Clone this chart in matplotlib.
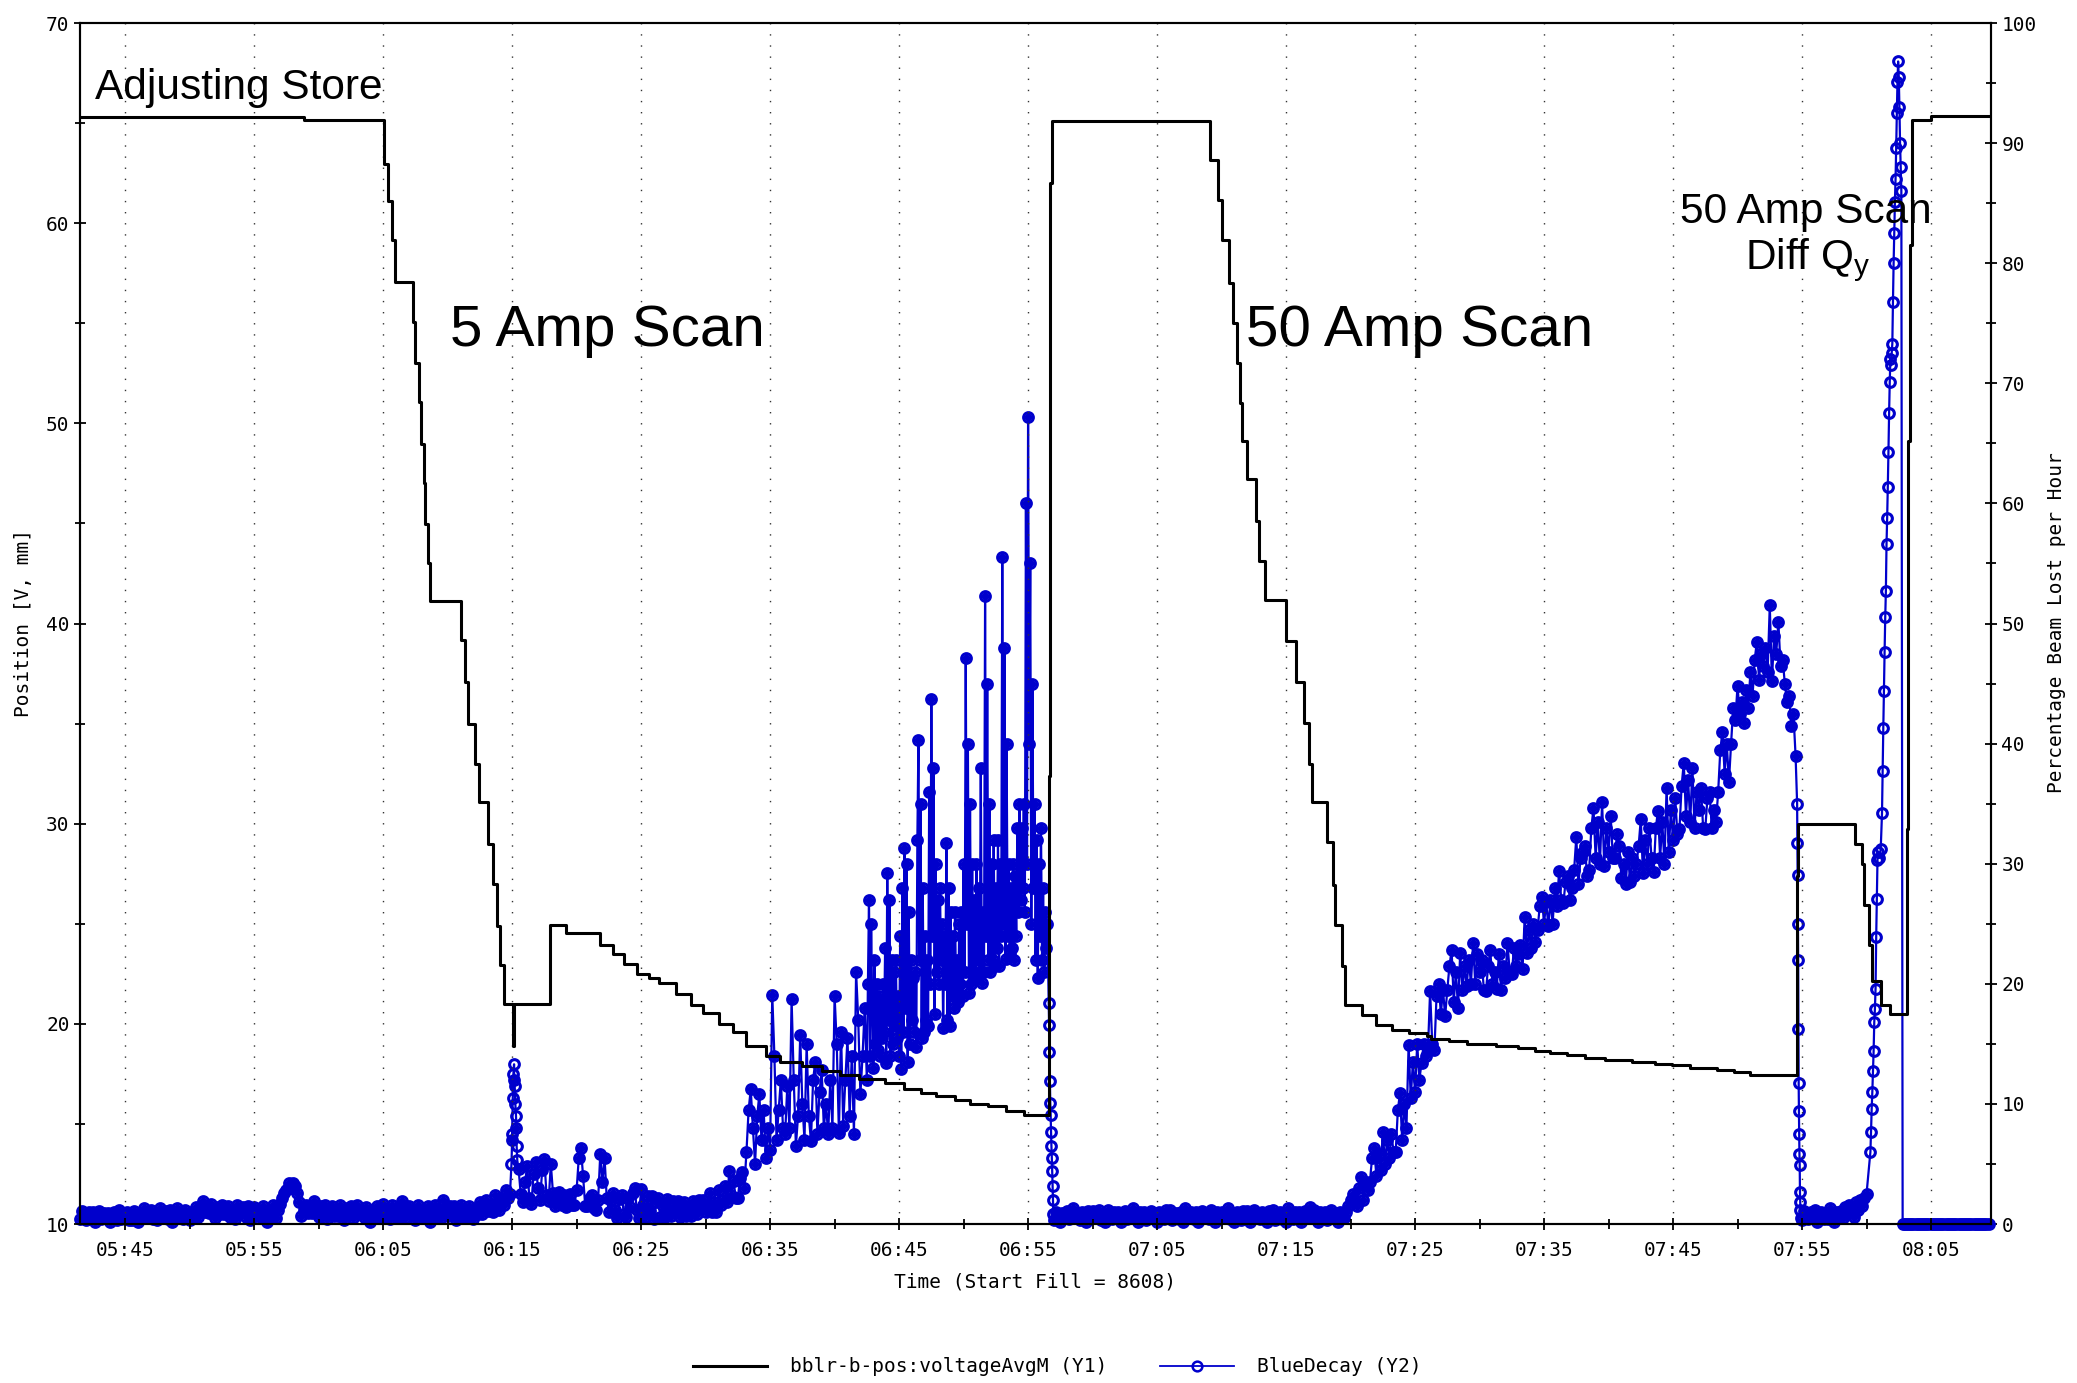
import numpy as np
import matplotlib
matplotlib.use("Agg")
import matplotlib.pyplot as plt
from matplotlib.ticker import MultipleLocator, FuncFormatter
from matplotlib.lines import Line2D

W, H = 2077, 1383
MONO = "DejaVu Sans Mono"
SANS = "Liberation Sans"
BLUE = "#0000cc"

plt.rcParams["font.family"] = MONO
plt.rcParams["mathtext.fontset"] = "custom"
plt.rcParams["mathtext.rm"] = SANS
plt.rcParams["mathtext.it"] = SANS + ":italic"
plt.rcParams["path.simplify"] = False

# all times are minutes after midnight

# bblr-b-pos:voltageAvgM, step values (time of change, new value)
black_t = [341.5, 358.9, 365.05, 365.35, 365.65, 365.95, 367.33, 367.45, 367.78, 367.96,
           368.14, 368.27, 368.49, 368.62, 371.07, 371.33, 371.59, 372.11, 372.42, 373.14,
           373.53, 373.79, 374.04, 374.35, 375.05, 375.15, 377.92, 379.2, 381.8, 382.8,
           383.7, 384.7, 385.6, 386.4, 387.7, 388.9, 389.8, 391.0, 392.1, 393.1,
           394.7, 395.8, 397.5, 399.0, 400.4, 401.9, 403.9, 405.4, 406.7, 407.9,
           409.3, 410.5, 411.9, 413.3, 414.7, 416.6, 416.72, 416.85, 429.08, 429.7,
           430.06, 430.6, 430.9, 431.2, 431.4, 431.6, 431.96, 432.66, 432.9, 433.4,
           435.0, 435.8, 436.4, 436.8, 437.0, 438.2, 438.6, 438.8, 439.3, 439.6,
           440.9, 442.0, 443.2, 444.5, 445.9, 446.2, 447.6, 449.0, 451.3, 453.0,
           454.3, 455.5, 456.8, 458.2, 459.7, 461.8, 463.6, 464.9, 466.3, 468.4,
           469.7, 471.0, 472.0, 474.62, 474.7, 479.13, 479.65, 479.83, 480.17, 480.43,
           481.15, 481.85, 483.1, 483.2, 483.35, 483.53, 485.0, 489.65]
black_v = [65.3, 65.15, 62.98, 61.13, 59.18, 57.07, 55.05, 53.0, 51.06, 48.96,
           47.0, 44.97, 43.0, 41.14, 39.2, 37.08, 34.97, 33.0, 31.08, 28.96,
           27.0, 24.9, 22.95, 20.99, 18.9, 20.99, 24.96, 24.55, 23.92, 23.5,
           22.97, 22.51, 22.3, 22.03, 21.49, 20.94, 20.54, 20.0, 19.59, 18.91,
           18.37, 18.1, 17.91, 17.64, 17.42, 17.24, 17.02, 16.75, 16.56, 16.37,
           16.2, 16.01, 15.88, 15.66, 15.47, 32.4, 62.0, 65.1, 63.15, 61.15,
           59.15, 57.0, 55.0, 53.0, 51.0, 49.1, 47.2, 45.1, 43.1, 41.17,
           39.14, 37.1, 35.05, 33.0, 31.08, 29.06, 26.93, 24.93, 22.89, 20.94,
           20.46, 19.94, 19.7, 19.54, 19.39, 19.24, 19.12, 18.98, 18.87, 18.77,
           18.62, 18.52, 18.42, 18.31, 18.21, 18.1, 18.0, 17.94, 17.8, 17.67,
           17.57, 17.46, 17.42, 27.4, 29.98, 28.96, 28.0, 25.92, 23.95, 22.14,
           20.92, 20.5, 29.73, 49.1, 58.9, 65.16, 65.35, 65.35]

# BlueDecay, regularly sampled segments (one row = one minute)
store_t0 = 341.5          # 10 s samples
store_p = [0.4, 1.1, 0.6, 0.3, 1.0, 0.5,
           1.0, 0.2, 0.8, 1.1, 0.4, 0.9,
           0.5, 0.9, 0.2, 0.7, 1.0, 0.3,
           1.2, 0.4, 0.9, 0.6, 1.0, 0.3,
           0.3, 1.1, 0.5, 0.2, 0.9, 0.6,
           1.3, 0.5, 1.0, 1.2, 0.4, 0.8,
           0.3, 1.3, 0.7, 0.6, 1.1, 0.4,
           1.2, 0.2, 0.9, 1.3, 0.5, 0.8,
           0.4, 1.2, 0.6, 0.3, 1.0, 0.5,
           1.4, 0.6, 1.2, 1.9, 1.0, 1.5,
           0.9, 1.7, 1.1, 0.5, 1.4, 0.8,
           1.6, 0.8, 1.2, 1.5, 0.6, 1.0,
           0.4, 1.6, 0.9, 1.1, 1.4, 0.6,
           1.5, 0.3, 1.0, 1.4, 0.7, 1.2,
           0.6, 1.5, 0.9, 0.2, 1.2, 0.7,
           1.6, 0.5, 1.2, 1.7, 2.2, 2.6,
           2.8, 3.4, 3.0, 3.4, 3.2, 2.6,
           1.8, 0.7, 1.2, 1.6, 0.9, 1.3,
           0.9, 1.9, 1.2, 0.6, 1.5, 1.0,
           1.6, 0.4, 1.1, 1.5, 0.7, 1.2,
           0.7, 1.6, 1.0, 0.3, 1.3, 0.8,
           1.5, 0.5, 1.1, 1.6, 0.8, 1.2,
           0.6, 1.4, 0.9, 0.2, 1.2, 0.7,
           1.5, 0.5, 1.0, 1.7, 0.6, 1.2,
           0.4, 1.6, 0.9, 0.7, 1.3, 0.5,
           1.9, 0.5, 1.3, 1.5, 0.8, 1.1,
           0.3, 1.6, 0.9, 0.6, 1.2, 0.5,
           1.5, 0.2, 1.0, 1.6, 0.7, 1.2,
           0.5, 2.0, 1.2, 0.7, 1.5, 0.9,
           1.5, 0.3, 1.0, 1.6, 0.6, 1.2,
           0.6, 1.5, 0.9, 0.4, 1.3, 0.8,
           1.8, 0.8, 1.4, 2.0, 1.1, 1.6,
           1.0, 2.4, 1.5, 1.2, 2.2, 1.6,
           2.8, 2.2]

scan5a_t0 = 374.8333      # 10 s samples
scan5a_p = [2.5, 7.0, 12.0, 8.0, 4.6, 2.5,
            1.8, 3.5, 4.8, 2.2, 1.7, 4.2,
            5.2, 3.0, 2.0, 4.5, 5.4, 2.4,
            1.9, 5.0, 2.6, 1.5, 2.2, 2.7,
            1.6, 2.4, 1.4, 2.0, 2.5, 1.6,
            1.6, 2.8, 5.5, 6.3, 4.0, 1.5,
            1.5, 2.2, 2.4, 1.3, 1.2, 2.0,
            5.8, 3.5, 5.5, 2.2, 1.0, 2.0,
            2.6, 1.2, 0.5, 2.1, 2.4, 0.8,
            0.6, 2.2, 1.4, 2.6, 3.0, 1.2,
            0.5, 2.9, 1.6, 0.6, 2.3, 1.1,
            2.3, 0.4, 1.8, 2.2, 0.6, 1.5,
            0.6, 2.1, 1.2, 0.7, 1.9, 1.0,
            1.9, 0.6, 1.4, 1.8, 0.7, 1.3,
            0.7, 1.9, 1.1, 0.8, 2.0, 1.3,
            2.0, 1.0, 1.6, 2.6, 1.0, 1.8,
            1.0, 2.8, 1.6, 2.0, 3.2, 1.8,
            4.4, 2.4, 3.6, 2.2]

scan5b_t0 = 392.5         # 10 s samples
scan5b_p = [2.2, 3.8, 4.3, 3.0, 6.0, 9.5,
            11.2, 8.0, 5.0, 9.0, 10.8, 7.0,
            9.5, 5.5, 8.0, 6.2, 19.1, 14.0,
            7.0, 9.5, 12.0, 8.0, 7.5, 11.5,
            8.0, 18.7, 12.0, 6.5, 9.0, 15.7,
            10.0, 7.0, 15.0, 9.0, 6.9, 12.0,
            13.5, 7.5, 11.0, 12.8, 8.0, 10.0,
            7.5, 12.0, 8.0, 19.0, 15.0, 7.6,
            16.0, 8.2, 12.0, 15.5, 9.0, 14.0,
            7.5, 21.0, 17.0, 10.8, 14.0, 18.0]

scan5c_t0 = 402.5         # 5 s samples
scan5c_p = [12.0, 20.0, 27.0, 14.0, 25.0, 18.0, 13.0, 22.0, 15.0, 20.0, 14.5, 19.0,
            14.0, 18.5, 15.5, 20.0, 16.0, 23.0, 13.4, 29.2, 17.0, 27.0, 14.0, 22.0,
            15.0, 21.0, 16.5, 22.0, 15.5, 19.0, 14.0, 24.0, 12.9, 28.0, 16.0, 31.3,
            18.0, 30.0, 13.5, 26.0, 15.0, 22.0, 17.0, 20.5, 16.0, 21.0, 14.7, 32.0,
            40.3, 22.0, 35.0, 15.5, 28.0, 16.0, 24.0, 17.0, 22.0, 16.5, 36.0, 20.0,
            43.7, 24.0, 38.0, 17.5, 30.0, 21.0, 27.0, 20.0, 28.0, 22.0, 25.0, 16.3,
            24.0, 20.0, 31.7, 17.0, 28.0, 16.5, 26.0, 19.0, 24.0, 18.0, 26.0, 19.5,
            22.0, 18.5, 25.0, 20.0, 26.0, 19.0, 30.0, 21.0, 47.1, 25.0, 40.0, 19.2,
            35.0, 20.0, 30.0, 21.0, 27.0, 20.5, 30.0, 22.0, 28.0, 21.0, 38.0, 20.1,
            26.0, 21.0, 52.3, 24.0, 45.0, 22.0, 35.0, 21.0, 30.0, 22.0, 32.0, 21.5,
            28.0, 23.0, 32.0, 21.5, 30.0, 24.0, 55.5, 25.0, 48.0, 22.1, 40.0, 24.0,
            30.0, 22.5, 28.0, 23.0, 30.0, 22.0, 29.0, 24.0, 33.0, 26.0, 35.0, 27.0,
            33.0, 28.0, 35.0, 26.0, 60.0, 30.0, 67.2, 40.0, 55.0, 25.0, 45.0, 28.0,
            35.0, 22.0, 32.0, 20.5, 30.0, 24.0, 33.0, 22.0, 28.0, 21.0, 26.0, 23.0,
            25.0]

quiet_t0 = 417.0          # 10 s samples
quiet_p = [0.3, 1.0, 0.6, 0.2, 0.9, 0.5,
           1.1, 0.4, 0.8, 1.3, 0.5, 0.9,
           0.3, 1.0, 0.6, 0.2, 1.1, 0.5,
           1.1, 0.5, 0.9, 1.2, 0.3, 0.8,
           0.2, 1.2, 0.7, 0.4, 1.0, 0.5,
           1.0, 0.2, 0.8, 1.1, 0.4, 0.9,
           0.5, 1.3, 0.8, 0.2, 1.0, 0.6,
           1.0, 0.3, 0.7, 1.1, 0.5, 0.9,
           0.2, 1.0, 0.6, 0.4, 1.2, 0.5,
           1.2, 0.3, 0.8, 0.9, 0.4, 1.0,
           0.2, 1.3, 0.7, 0.5, 1.0, 0.4,
           1.0, 0.2, 0.8, 1.1, 0.5, 0.9,
           0.4, 1.2, 0.7, 0.2, 1.0, 0.6,
           1.0, 0.5, 0.9, 1.3, 0.4, 0.8,
           0.2, 1.0, 0.6, 0.3, 1.1, 0.5,
           1.1, 0.2, 0.8, 1.2, 0.5, 0.9,
           0.4, 1.0, 0.6, 0.2, 1.1, 0.5,
           1.2, 0.3, 0.8, 1.0, 0.4, 0.9,
           0.2, 1.3, 0.7, 0.4, 1.0, 0.5,
           1.0, 0.2, 0.8, 1.1, 0.5, 1.4,
           0.5, 1.2, 0.7, 0.2, 1.0, 0.6,
           1.0, 0.3, 0.8, 1.2, 0.5, 0.9,
           0.2, 1.0, 0.5]

scan50_t0 = 439.5         # 10 s samples
scan50_p = [0.5, 1.0, 1.5, 2.0, 2.5, 1.8,
            1.5, 3.0, 3.9, 2.0, 3.5, 2.8,
            3.5, 5.5, 6.3, 4.0, 5.8, 4.5,
            7.7, 5.0, 7.0, 5.5, 7.5, 6.0,
            6.0, 9.5, 10.9, 7.0, 10.0, 8.0,
            14.9, 10.5, 13.5, 11.0, 15.0, 12.0,
            13.4, 15.0, 14.0, 14.5, 19.4, 15.0,
            14.5, 19.0, 20.0, 17.5, 19.5, 17.3,
            19.5, 21.5, 22.8, 18.5, 21.0, 18.0,
            22.6, 19.5, 21.5, 19.8, 22.0, 20.0,
            23.4, 20.0, 22.5, 21.0, 22.0, 19.5,
            19.4, 21.5, 22.8, 20.0, 21.0, 19.6,
            22.5, 19.5, 21.5, 20.5, 23.4, 21.0,
            20.8, 23.0, 21.5, 22.5, 23.2, 21.2,
            25.6, 22.6, 24.5, 23.0, 25.0, 23.5,
            24.5, 26.5, 27.2, 25.0, 26.8, 24.8,
            27.0, 25.0, 28.0, 26.5, 29.4, 27.0,
            26.7, 28.5, 29.0, 27.0, 28.0, 29.5,
            32.2, 28.3, 30.5, 31.0, 31.5, 29.0,
            29.5, 33.0, 34.6, 30.5, 33.5, 30.0,
            35.1, 29.8, 33.0, 31.0, 34.0, 30.5,
            30.5, 32.5, 31.5, 28.8, 30.0, 28.3,
            31.0, 28.5, 30.5, 29.0, 30.0, 31.5,
            33.7, 29.2, 32.0, 30.0, 33.0, 30.5,
            29.3, 33.0, 34.4, 30.5, 33.5, 30.0,
            36.3, 31.0, 34.5, 32.0, 35.5, 32.5,
            32.9, 36.5, 38.4, 34.0, 37.0, 33.5,
            38.0, 33.0, 36.0, 34.5, 36.3, 33.0,
            32.9, 35.5, 36.0, 33.0, 34.5, 33.5,
            36.0, 39.5, 41.0, 37.5, 40.0, 36.8,
            40.0, 43.0, 42.0, 44.8, 42.5, 43.5,
            41.7, 44.5, 43.0, 46.0, 44.0, 47.0,
            48.5, 45.3, 47.5, 46.5, 48.0, 46.0,
            51.5, 45.2, 49.0, 47.5, 50.1, 46.5,
            47.0, 45.0, 43.5, 44.0, 41.5, 42.5,
            39.0]

diffq_t0 = 475.0          # 10 s samples
diffq_p = [0.3, 1.1, 0.6, 0.4, 1.0, 0.5,
           1.2, 0.2, 0.8, 1.0, 0.4, 0.9,
           0.4, 1.3, 0.7, 0.2, 1.0, 0.6,
           1.1, 0.5, 1.4, 0.8, 1.6, 1.0,
           0.6, 1.8, 1.2, 2.0, 1.5, 2.2,
           2.5]

lost_t0 = 482.8           # 10 s samples, beam gone
lost_p = [0.0] * 41

# BlueDecay, fast transitions (explicit times)
spike_t = [374.95, 375.0, 375.05, 375.1, 375.15, 375.2, 375.25, 375.3, 375.35, 375.4]
spike_p = [5.0, 7.5, 10.5, 12.5, 13.3, 11.5, 10.0, 9.0, 6.5, 5.3]

drop1_t = [416.6, 416.63, 416.66, 416.69, 416.72, 416.75, 416.78, 416.81, 416.84,
           416.87, 416.9, 416.93, 416.96]
drop1_p = [18.4, 16.6, 14.3, 11.9, 10.1, 9.1, 7.7, 6.5, 5.5, 4.4, 3.2, 2.0, 0.8]

drop2_t = [474.62, 474.64, 474.66, 474.68, 474.7, 474.72, 474.74, 474.76, 474.78,
           474.8, 474.82, 474.84, 474.86, 474.88, 474.9]
drop2_p = [35.0, 31.7, 29.1, 25.0, 22.0, 16.2, 11.7, 9.4, 7.5, 5.8, 4.9, 2.7, 1.8, 1.2, 0.5]

rise_t = [480.3, 480.35, 480.4, 480.45, 480.5, 480.55, 480.6, 480.65, 480.7, 480.75,
          480.8, 480.85, 480.9, 481.0, 481.1, 481.2, 481.25, 481.3, 481.35, 481.4,
          481.45, 481.5, 481.55, 481.6, 481.65, 481.7, 481.75, 481.8, 481.85, 481.9,
          481.95, 482.0, 482.05, 482.1, 482.15, 482.2, 482.25, 482.3, 482.35, 482.4,
          482.45, 482.5, 482.55, 482.6, 482.65, 482.7]
rise_p = [6.0, 7.7, 9.6, 11.0, 12.7, 14.4, 16.8, 17.9, 19.6, 23.9,
          27.1, 30.3, 31.0, 30.5, 31.2, 34.2, 37.7, 41.3, 44.4, 47.6,
          50.5, 52.7, 56.6, 58.8, 61.4, 64.3, 67.5, 70.1, 72.0, 71.5,
          72.5, 73.3, 76.8, 80.0, 82.5, 85.1, 87.0, 89.6, 92.5, 95.1,
          96.8, 95.5, 93.0, 90.0, 88.0, 86.0]


def regular(t0, step, vals):
    return t0 + np.arange(len(vals)) * step, np.asarray(vals, dtype=float)


dense = [
    regular(store_t0, 1 / 6, store_p),
    regular(scan5a_t0, 1 / 6, scan5a_p),
    regular(scan5b_t0, 1 / 6, scan5b_p),
    regular(scan5c_t0, 1 / 12, scan5c_p),
    regular(quiet_t0, 1 / 6, quiet_p),
    regular(scan50_t0, 1 / 6, scan50_p),
    regular(diffq_t0, 1 / 6, diffq_p),
    regular(lost_t0, 1 / 6, lost_p),
]
fast = [
    (np.array(spike_t), np.array(spike_p)),
    (np.array(drop1_t), np.array(drop1_p)),
    (np.array(drop2_t), np.array(drop2_p)),
    (np.array(rise_t), np.array(rise_p)),
]
dense_t = np.concatenate([p[0] for p in dense])
dense_p = np.concatenate([p[1] for p in dense])
blue_t = np.concatenate([dense_t] + [p[0] for p in fast])
blue_p = np.concatenate([dense_p] + [p[1] for p in fast])
order = np.argsort(blue_t, kind="stable")
blue_t, blue_p = blue_t[order], blue_p[order]


def hhmm(m, pos=None):
    m = int(round(m))
    return f"{m // 60:02d}:{m % 60:02d}"


fig = plt.figure(figsize=(W / 100, H / 100), dpi=100)
ax = fig.add_axes([80 / W, 1 - 1224 / H, (1991 - 80) / W, (1224 - 23) / H])
ax2 = ax.twinx()

blue_style = dict(color=BLUE, lw=1.6, marker="o", ms=7, mfc="none", mec=BLUE, mew=2.2)
# dense stretches read as a solid band: fill the ring centres there
ax2.plot(dense_t, dense_p, ls="none", marker="o", ms=5.5, mfc=BLUE, mec=BLUE, mew=0,
         clip_on=False)
ax2.plot(blue_t, blue_p, clip_on=False, **blue_style)
ax.plot(black_t, black_v, drawstyle="steps-post", color="black", lw=2.2)

ax.set_zorder(ax2.get_zorder() + 1)
ax.patch.set_visible(False)

ax.set_xlim(341.5, 489.65)
ax.set_ylim(10, 70)
ax2.set_ylim(0, 100)

ax.xaxis.set_major_locator(MultipleLocator(10, offset=5))
ax.xaxis.set_minor_locator(MultipleLocator(5))
ax.xaxis.set_major_formatter(FuncFormatter(hhmm))
ax.yaxis.set_major_locator(MultipleLocator(10))
ax.yaxis.set_minor_locator(MultipleLocator(5))
ax2.yaxis.set_major_locator(MultipleLocator(10))
ax2.yaxis.set_minor_locator(MultipleLocator(5))

for a in (ax, ax2):
    a.tick_params(which="both", direction="inout", width=1.3, labelsize=14)
    a.tick_params(which="major", length=9)
    a.tick_params(which="minor", length=7)
    for s in a.spines.values():
        s.set_linewidth(1.5)
ax.tick_params(axis="x", pad=8)
ax.tick_params(axis="y", pad=3)
ax2.tick_params(axis="y", pad=3)

ax.grid(axis="x", which="major", color="#333333", lw=1.0, ls=(0, (1, 7)))

fig.text(1035 / W, 1 - 1282 / H, "Time (Start Fill = 8608)", ha="center", va="center", fontsize=14)
fig.text(24 / W, 1 - 623 / H, "Position [V, mm]", ha="center", va="center", rotation=90, fontsize=14)
fig.text(2057 / W, 1 - 623 / H, "Percentage Beam Lost per Hour", ha="center", va="center",
         rotation=90, fontsize=14)

ax.text(342.64, 66.2, "Adjusting Store", family=SANS, fontsize=30.5, va="baseline", ha="left")
ax.text(370.16, 53.88, "5 Amp Scan", family=SANS, fontsize=42, va="baseline", ha="left")
ax.text(431.88, 53.88, "50 Amp Scan", family=SANS, fontsize=42, va="baseline", ha="left")
ax.text(475.28, 60.0, "50 Amp Scan", family=SANS, fontsize=30.5, va="baseline", ha="center")
ax.text(475.45, 57.7, r"Diff Q$_{\mathrm{y}}$", family=SANS, fontsize=30.5, va="baseline", ha="center")

legend_blue = dict(blue_style, lw=1.3, mew=1.8)
handles = [Line2D([], [], color="black", lw=2.2),
           Line2D([], [], **legend_blue)]
fig.legend(handles, ["bblr-b-pos:voltageAvgM (Y1)", "BlueDecay (Y2)"], loc="center",
           bbox_to_anchor=(1057 / W, 1 - 1367 / H), ncol=2, frameon=False, handlelength=3.8,
           handletextpad=1.2, columnspacing=2.7, numpoints=1, prop={"family": MONO, "size": 14})

fig.savefig("out.png", dpi=100)
